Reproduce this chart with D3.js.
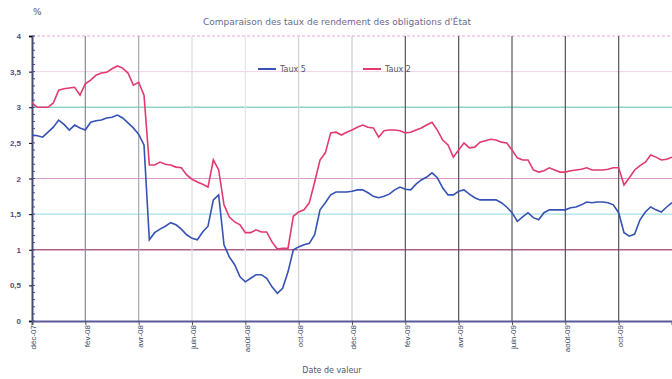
<!DOCTYPE html>
<html>
<head>
<meta charset="utf-8">
<script src="https://cdn.jsdelivr.net/npm/d3@7"></script>
<style>
  body { margin: 0; background: #fff; }
  svg { display: block; font-family: "DejaVu Sans", sans-serif; }
</style>
</head>
<body>
<svg id="chart" width="672" height="379"></svg>
<script>
// tick labels for the x axis (one every 10 points)
let xLabels = ["déc-07", "fév-08", "avr-08", "juin-08", "août-08", "oct-08",
    "déc-08", "fév-09", "avr-09", "juin-09", "août-09", "oct-09"];
let seriesNames = ["Taux 5", "Taux 2"];

// values, one per week
let taux5 = [2.61, 2.60, 2.58, 2.65, 2.72, 2.82, 2.76, 2.68, 2.75, 2.71,
    2.68, 2.79, 2.81, 2.82, 2.85, 2.86, 2.89, 2.85, 2.78, 2.71,
    2.62, 2.47, 1.14, 1.24, 1.29, 1.33, 1.38, 1.35, 1.29, 1.21,
    1.16, 1.14, 1.25, 1.33, 1.70, 1.77, 1.07, 0.90, 0.79, 0.62,
    0.55, 0.60, 0.65, 0.65, 0.60, 0.48, 0.39, 0.46, 0.69, 1.00,
    1.04, 1.07, 1.09, 1.21, 1.56, 1.66, 1.77, 1.81, 1.81, 1.81,
    1.82, 1.84, 1.84, 1.80, 1.75, 1.73, 1.75, 1.78, 1.84, 1.88,
    1.85, 1.84, 1.92, 1.98, 2.02, 2.08, 2.01, 1.87, 1.77, 1.77,
    1.82, 1.84, 1.78, 1.73, 1.70, 1.70, 1.70, 1.70, 1.66, 1.60,
    1.52, 1.40, 1.46, 1.52, 1.45, 1.42, 1.52, 1.56, 1.56, 1.56,
    1.56, 1.59, 1.60, 1.63, 1.67, 1.66, 1.67, 1.67, 1.66, 1.63,
    1.52, 1.24, 1.19, 1.22, 1.42, 1.53, 1.60, 1.56, 1.53, 1.60, 1.66];

let taux2 = [3.06, 3.00, 3.00, 3.00, 3.06, 3.24, 3.26, 3.27, 3.28, 3.17,
    3.33, 3.38, 3.45, 3.48, 3.49, 3.54, 3.58, 3.55, 3.48, 3.31,
    3.35, 3.17, 2.19, 2.19, 2.23, 2.20, 2.19, 2.16, 2.15, 2.05,
    1.99, 1.95, 1.92, 1.88, 2.26, 2.12, 1.63, 1.46, 1.39, 1.35,
    1.24, 1.24, 1.28, 1.25, 1.25, 1.11, 1.01, 1.02, 1.02, 1.47,
    1.53, 1.56, 1.66, 1.95, 2.26, 2.36, 2.64, 2.65, 2.61, 2.65,
    2.68, 2.72, 2.75, 2.72, 2.71, 2.58, 2.67, 2.68, 2.68, 2.67,
    2.64, 2.65, 2.68, 2.71, 2.75, 2.79, 2.68, 2.54, 2.47, 2.30,
    2.40, 2.50, 2.43, 2.44, 2.51, 2.53, 2.55, 2.54, 2.51, 2.50,
    2.40, 2.29, 2.26, 2.26, 2.12, 2.09, 2.11, 2.15, 2.12, 2.09,
    2.09, 2.11, 2.12, 2.13, 2.15, 2.12, 2.12, 2.12, 2.13, 2.15,
    2.15, 1.91, 2.01, 2.12, 2.18, 2.23, 2.33, 2.30, 2.26, 2.27, 2.30];

let yTicks = [0, 0.5, 1, 1.5, 2, 2.5, 3, 3.5, 4];

let svg = d3.select("#chart");
let plotLeft = 32, plotRight = 672, plotTop = 36, plotBottom = 321;

let xScale = d3.scaleLinear().domain([0, taux5.length - 1]).range([plotLeft, plotRight]);
let yScale = d3.scaleLinear().domain([0, 4]).range([plotBottom, plotTop]);

// coloured horizontal grid, as in the scan
let hGrid = [
    {v: 4, c: "#e8a8d8", w: 1, d: "3,2"},
    {v: 3.5, c: "#f3d3e6", w: 1, d: null},
    {v: 3, c: "#8fd2c8", w: 1.5, d: null},
    {v: 2, c: "#d89ad0", w: 1.2, d: null},
    {v: 1.5, c: "#a8e0ea", w: 1.2, d: null},
    {v: 1, c: "#b0608e", w: 1.5, d: null}
];
svg.append("g").selectAll("line").data(hGrid).enter().append("line")
    .attr("x1", plotLeft).attr("x2", plotRight)
    .attr("y1", d => yScale(d.v)).attr("y2", d => yScale(d.v))
    .attr("stroke", d => d.c).attr("stroke-width", d => d.w)
    .attr("stroke-dasharray", d => d.d);

// vertical grid, darker on the right half
let xTickIdx = xLabels.map((d, i) => i * 10);
let vShade = ["none", "#8a8a98", "#a8a8b4", "#dcdce2", "#e4e4ea", "#d0d0d8",
    "#c8c8d0", "#55555f", "#50505a", "#55555f", "#50505a", "#55555f"];
svg.append("g").selectAll("line").data(xTickIdx).enter().append("line")
    .attr("x1", d => xScale(d)).attr("x2", d => xScale(d))
    .attr("y1", plotTop).attr("y2", plotBottom)
    .attr("stroke", (d, i) => vShade[i])
    .attr("stroke-width", 1.2);

// y axis with dense minor ticks
let yAxis = d3.axisLeft(yScale).tickValues(yTicks).tickSize(3).tickPadding(8)
    .tickFormat(d => String(d).replace(".", ","));
let gy = svg.append("g").attr("transform", "translate(" + plotLeft + ",0)").call(yAxis);
gy.select(".domain").attr("stroke", "#4a4a78").attr("stroke-width", 2);
gy.selectAll("text").attr("font-size", 8).attr("font-weight", "bold").attr("fill", "#5a4a7a");
let minor = d3.range(0, 4.01, 0.1);
svg.append("g").selectAll("line").data(minor).enter().append("line")
    .attr("x1", plotLeft).attr("x2", plotLeft + 3)
    .attr("y1", d => yScale(d)).attr("y2", d => yScale(d))
    .attr("stroke", "#4a4a78").attr("stroke-width", 1);

// x axis
let xAxis = d3.axisBottom(xScale).tickValues(xTickIdx).tickSize(4)
    .tickFormat((d, i) => xLabels[i]);
let gx = svg.append("g").attr("transform", "translate(0," + plotBottom + ")").call(xAxis);
gx.select(".domain").attr("stroke", "#5a5a9a").attr("stroke-width", 2);
gx.selectAll(".tick line").attr("stroke", "#555");
gx.selectAll("text")
    .attr("font-size", 8)
    .attr("fill", "#3a4a60")
    .style("text-anchor", "end")
    .attr("dx", "-.5em")
    .attr("dy", "-.4em")
    .attr("transform", "rotate(-90)");

// lines
let line = d3.line().x((d, i) => xScale(i)).y(d => yScale(d));
svg.append("path").datum(taux5).attr("d", line)
    .attr("fill", "none").attr("stroke", "#3552b4").attr("stroke-width", 1.6);
svg.append("path").datum(taux2).attr("d", line)
    .attr("fill", "none").attr("stroke", "#e23a6e").attr("stroke-width", 1.6);

// legend
let legend = svg.append("g").attr("font-size", 8).attr("fill", "#556");
[["#3552b4", 258], ["#e23a6e", 363]].forEach(function (c, i) {
    legend.append("line").attr("x1", c[1]).attr("x2", c[1] + 18)
        .attr("y1", 69).attr("y2", 69).attr("stroke", c[0]).attr("stroke-width", 2);
    legend.append("text").attr("x", c[1] + 22).attr("y", 72).text(seriesNames[i]);
});

// titles
svg.append("text").attr("x", 337).attr("y", 25).attr("text-anchor", "middle")
    .attr("font-size", 9).attr("fill", "#6a6a8a")
    .text("Comparaison des taux de rendement des obligations d'État");
svg.append("text").attr("x", 33).attr("y", 15).attr("font-size", 9)
    .attr("fill", "#556").text("%");
svg.append("text").attr("x", 332).attr("y", 373).attr("text-anchor", "middle")
    .attr("font-size", 8).attr("fill", "#556").text("Date de valeur");
</script>
</body>
</html>
